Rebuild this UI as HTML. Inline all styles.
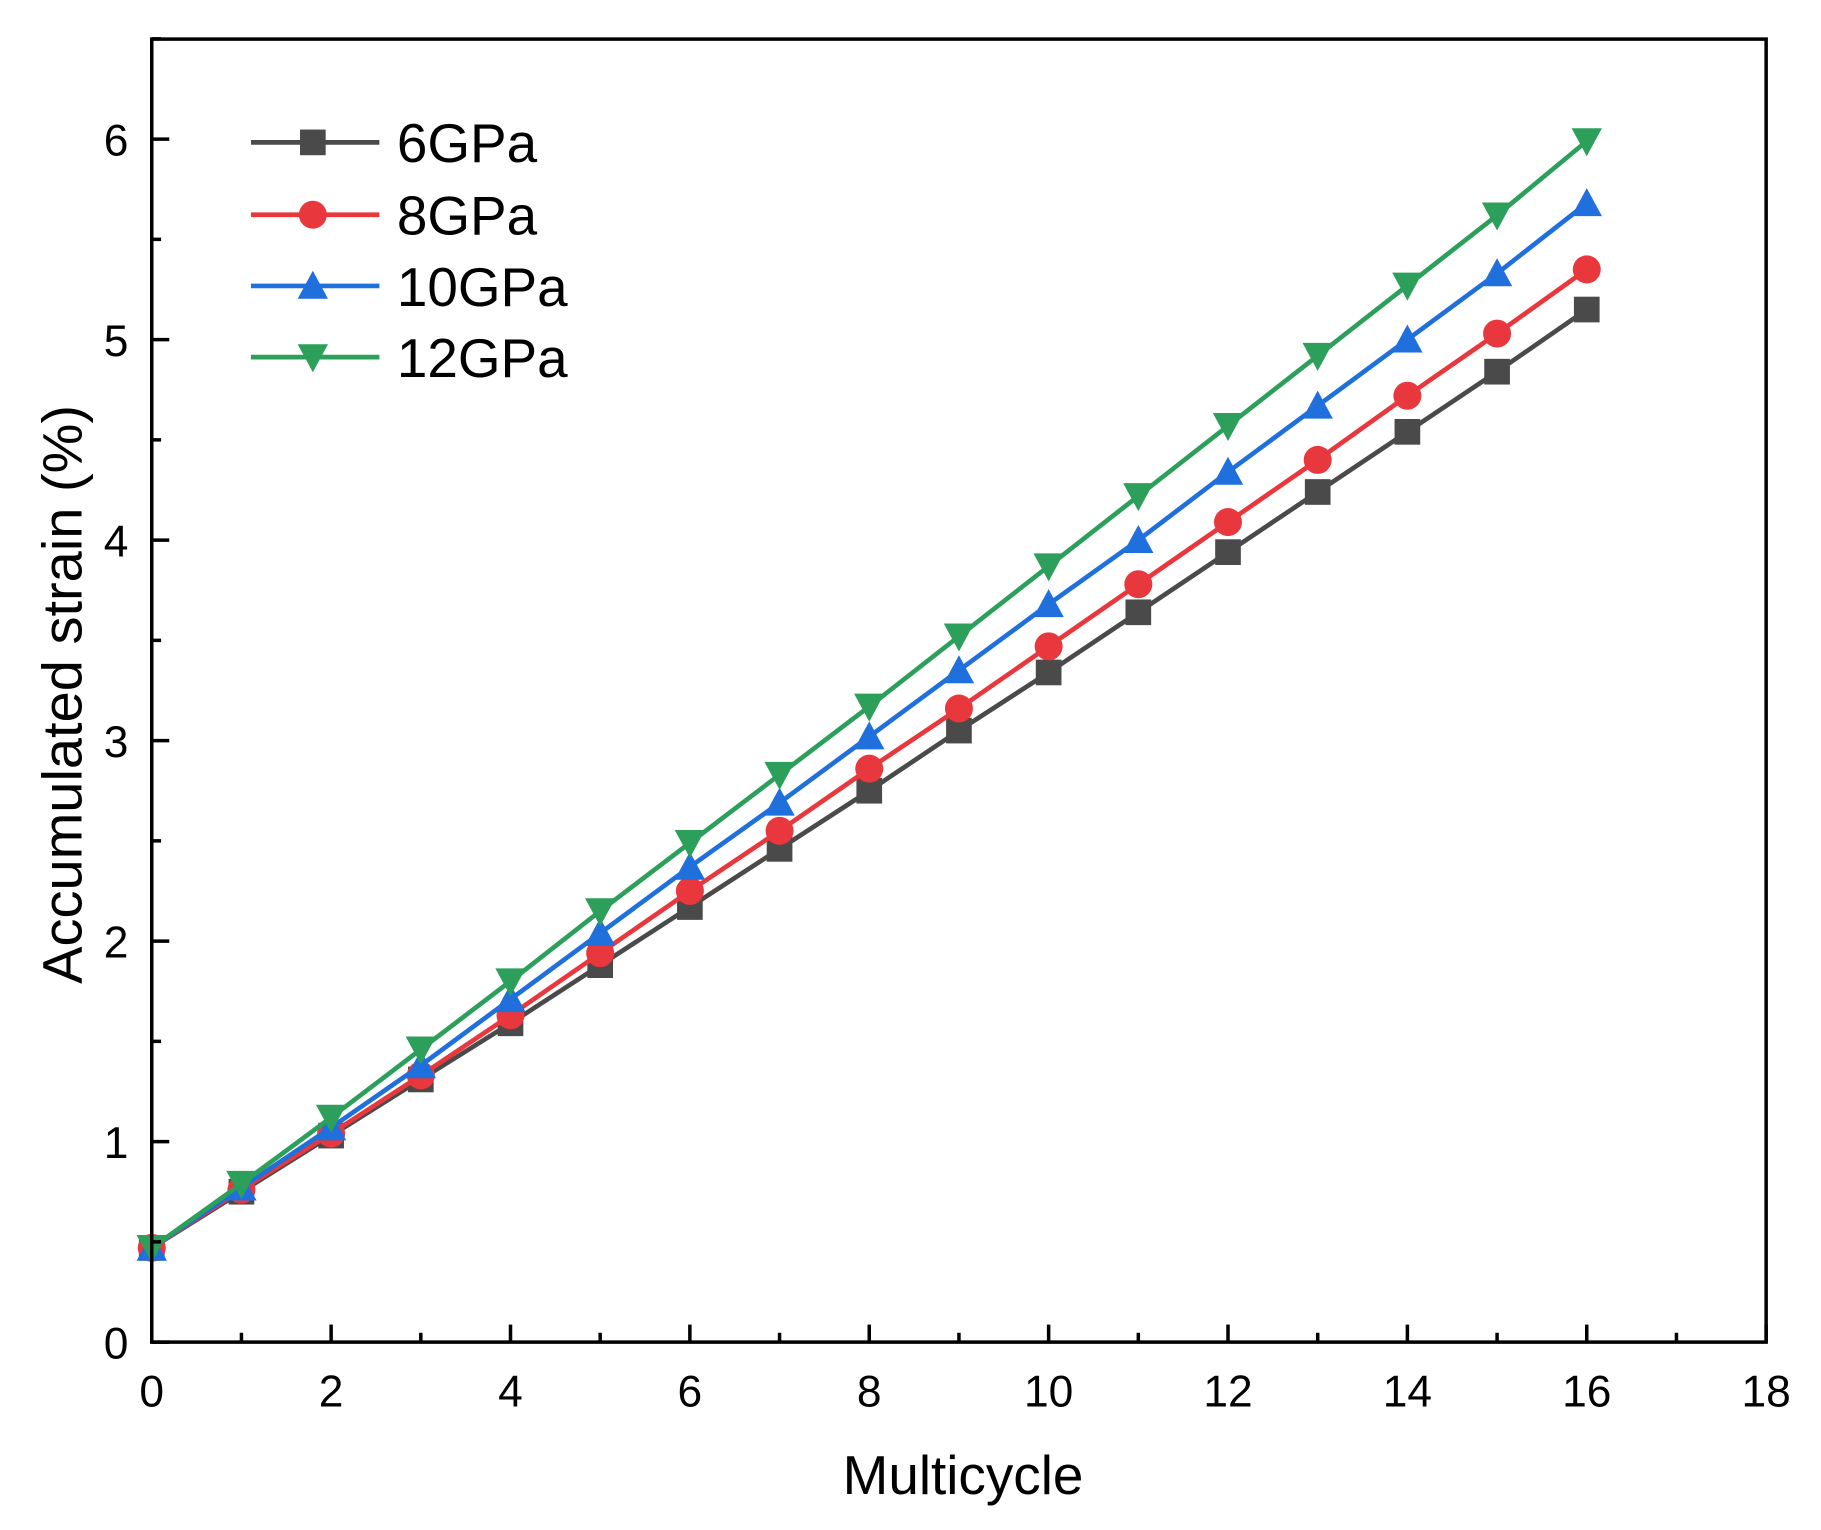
<!DOCTYPE html>
<html><head><meta charset="utf-8"><style>html,body{margin:0;padding:0;background:#fff}svg{display:block}</style></head><body>
<svg width="1821" height="1530" viewBox="0 0 1560 1311" preserveAspectRatio="none" xmlns="http://www.w3.org/2000/svg" font-family="Liberation Sans, Arial, sans-serif">
<rect width="1560" height="1311" fill="#fff"/>
<g id="plot"></g>
<script>
(function(){
var g=document.getElementById('plot'),NS='http://www.w3.org/2000/svg';
function el(t,a,txt){var e=document.createElementNS(NS,t);for(var k in a)e.setAttribute(k,a[k]);if(txt!=null)e.textContent=txt;g.appendChild(e);return e;}
var L=130,R=1513,T=33.5,B=1150;
var YS=171.8;
function X(v){return L+v*(R-L)/18;}function Y(v){return B-v*YS;}
var data=[
{c:'#4a4a4a',m:'s',n:'6GPa',d:[0.47,0.75,1.03,1.31,1.59,1.88,2.17,2.46,2.75,3.05,3.34,3.64,3.94,4.24,4.54,4.84,5.15]},
{c:'#e8383d',m:'c',n:'8GPa',d:[0.47,0.76,1.04,1.33,1.63,1.94,2.25,2.55,2.86,3.16,3.47,3.78,4.09,4.40,4.72,5.03,5.35]},
{c:'#1f6fdd',m:'u',n:'10GPa',d:[0.47,0.77,1.07,1.38,1.71,2.04,2.37,2.69,3.02,3.35,3.68,4.00,4.34,4.67,5.00,5.33,5.68]},
{c:'#2ca05a',m:'d',n:'12GPa',d:[0.47,0.79,1.12,1.46,1.80,2.15,2.49,2.83,3.17,3.52,3.87,4.22,4.57,4.92,5.27,5.62,5.99]}];
function mk(t,x,y,c){var s=11;
 if(t=='s')el('rect',{x:x-s,y:y-s,width:2*s,height:2*s,fill:c});
 else if(t=='c')el('circle',{cx:x,cy:y,r:s+1,fill:c});
 else if(t=='u')el('polygon',{points:(x)+','+(y-s-2)+' '+(x-s-2)+','+(y+s)+' '+(x+s+2)+','+(y+s),fill:c});
 else el('polygon',{points:(x)+','+(y+s+2)+' '+(x-s-2)+','+(y-s)+' '+(x+s+2)+','+(y-s),fill:c});}
data.forEach(function(s){var p=s.d.map(function(v,i){return X(i)+','+Y(v)}).join(' ');
 el('polyline',{points:p,fill:'none',stroke:s.c,'stroke-width':4});
 s.d.forEach(function(v,i){mk(s.m,X(i),Y(v),s.c);});});
el('rect',{x:L,y:T,width:R-L,height:B-T,fill:'none',stroke:'#000','stroke-width':3});
for(var i=0;i<=18;i++){var x=X(i),len=i%2?8:15;el('line',{x1:x,y1:B,x2:x,y2:B-len,stroke:'#000','stroke-width':3});
 if(i%2==0)el('text',{x:x,y:B+55,'font-size':38,'text-anchor':'middle'},''+i);}
for(var j=0;j<=13;j++){var y=B-j*YS/2,len=j%2?8:15;el('line',{x1:L,y1:y,x2:L+len,y2:y,stroke:'#000','stroke-width':3});
 if(j%2==0)el('text',{x:L-20,y:y+14,'font-size':38,'text-anchor':'end'},''+(j/2));}
el('text',{x:825,y:1280,'font-size':47,'text-anchor':'middle'},'Multicycle');
el('text',{x:0,y:0,'font-size':48,'text-anchor':'middle',transform:'translate(70,595) rotate(-90)'},'Accumulated strain (%)');
var ly=[122,184,245,306];
data.forEach(function(s,i){el('line',{x1:215,y1:ly[i],x2:325,y2:ly[i],stroke:s.c,'stroke-width':4});mk(s.m,268,ly[i],s.c);
 el('text',{x:340,y:ly[i]+17,'font-size':47},s.n);});
})();
</script>
</svg>
</body></html>
